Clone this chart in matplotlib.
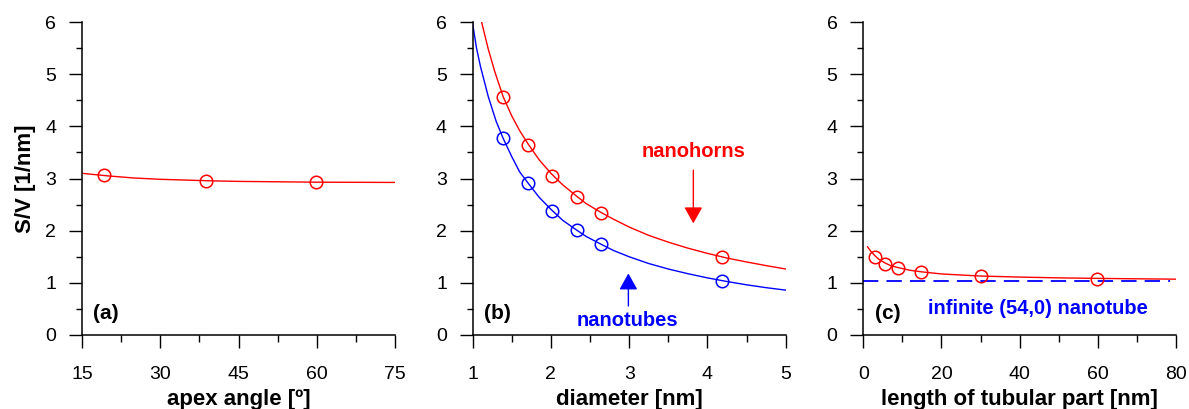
import numpy as np
import matplotlib
matplotlib.use("Agg")
import matplotlib.pyplot as plt
from matplotlib.ticker import MultipleLocator

plt.rcParams['font.family'] = ['Liberation Sans', 'DejaVu Sans']

# (a) S/V vs apex angle
apex_pts = [19.2, 38.8, 59.9]
apex_sv = [3.07, 2.96, 2.93]
apex_curve_x = [15, 20, 25, 30, 35, 40, 45, 50, 60, 75]
apex_curve_y = [3.10, 3.05, 3.01, 2.985, 2.97, 2.955, 2.945, 2.94, 2.93, 2.925]

# (b) S/V vs diameter
diam_pts = [1.39, 1.71, 2.02, 2.33, 2.64, 4.19]
horn_sv = [4.57, 3.64, 3.05, 2.65, 2.34, 1.50]
tube_sv = [3.77, 2.92, 2.38, 2.01, 1.74, 1.04]
horn_curve_x = [1.115, 1.2, 1.285, 1.39, 1.5, 1.6, 1.71, 1.85, 2.0, 2.15, 2.33, 2.45, 2.64,
                2.8, 3.0, 3.25, 3.5, 3.75, 4.0, 4.25, 4.5, 4.75, 5.0]
horn_curve_y = [6.0, 5.48, 5.04, 4.57, 4.20, 3.92, 3.66, 3.36, 3.10, 2.88, 2.66, 2.52, 2.35,
                2.22, 2.07, 1.91, 1.78, 1.665, 1.565, 1.475, 1.40, 1.33, 1.265]
tube_curve_x = [1.0, 1.05, 1.1, 1.2, 1.3, 1.39, 1.5, 1.6, 1.71, 1.85, 2.0, 2.15, 2.33, 2.45,
                2.64, 2.8, 3.0, 3.25, 3.5, 3.75, 4.0, 4.25, 4.5, 4.75, 5.0]
tube_curve_y = [5.97, 5.5, 5.15, 4.57, 4.10, 3.77, 3.42, 3.13, 2.91, 2.64, 2.41, 2.20, 2.01, 1.89,
                1.74, 1.62, 1.50, 1.37, 1.265, 1.175, 1.095, 1.025, 0.962, 0.907, 0.86]

# (c) S/V vs length of tubular part
len_pts = [3.07, 5.6, 9.0, 14.8, 30.2, 59.7]
len_sv = [1.50, 1.37, 1.29, 1.20, 1.13, 1.08]
len_curve_x = [1.1, 2, 3, 4, 5.6, 7, 9, 12, 15, 20, 30, 40, 50, 60, 70, 80]
len_curve_y = [1.69, 1.60, 1.52, 1.45, 1.38, 1.33, 1.29, 1.24, 1.21, 1.17, 1.13, 1.11, 1.095, 1.085, 1.077, 1.07]
inf_tube_sv = 1.035

RED = '#ff0000'
BLUE = '#0000ff'
FS = 14       # tick labels
FS_LAB = 16   # axis titles
FS_TXT = 14.5 # annotations

fig = plt.figure(figsize=(11.89, 4.09), dpi=100)
lefts = [0.069, 0.3975, 0.726]
axes = [fig.add_axes([l, 0.181, 0.2633, 0.765]) for l in lefts]


def style(ax, xlim, xmaj, xmin, xlabel):
    ax.set_xlim(*xlim)
    ax.set_ylim(0, 6)
    ax.xaxis.set_major_locator(MultipleLocator(xmaj))
    ax.xaxis.set_minor_locator(MultipleLocator(xmin))
    ax.yaxis.set_major_locator(MultipleLocator(1))
    ax.yaxis.set_minor_locator(MultipleLocator(0.5))
    for s in ['top', 'right']:
        ax.spines[s].set_visible(False)
    for s in ['left', 'bottom']:
        ax.spines[s].set_linewidth(1.1)
    ax.tick_params(axis='x', which='major', direction='out', length=9, width=1, pad=13, labelsize=FS)
    ax.tick_params(axis='x', which='minor', direction='out', length=5, width=1)
    ax.tick_params(axis='y', which='major', direction='out', length=9.5, width=1, pad=9, labelsize=FS)
    ax.tick_params(axis='y', which='minor', direction='out', length=4, width=1)
    ax.set_xlabel(xlabel, fontsize=FS_LAB, fontweight='bold', labelpad=5)
    for lab in ax.get_xticklabels() + ax.get_yticklabels():
        lab.set_clip_on(False)


mk = dict(marker='o', linestyle='none', markersize=9, markerfacecolor='none', markeredgewidth=1.1)

# panel a
ax = axes[0]
style(ax, (15, 75), 15, 7.5, 'apex angle [º]')
ax.plot(apex_curve_x, apex_curve_y, color=RED, lw=1.0)
ax.plot(apex_pts, apex_sv, color=RED, **mk)
ax.set_ylabel('S/V [1/nm]', fontsize=FS_LAB, fontweight='bold', labelpad=7)
ax.text(0.035, 0.07, '(a)', transform=ax.transAxes, fontsize=15, fontweight='bold', va='center')

# panel b
ax = axes[1]
style(ax, (1, 5), 1, 0.5, 'diameter [nm]')
ax.plot(horn_curve_x, horn_curve_y, color=RED, lw=1.0)
ax.plot(tube_curve_x, tube_curve_y, color=BLUE, lw=1.0)
ax.plot(diam_pts, horn_sv, color=RED, **mk)
ax.plot(diam_pts, tube_sv, color=BLUE, **mk)
ax.annotate('', xy=(3.82, 2.14), xytext=(3.82, 3.16),
            arrowprops=dict(arrowstyle='-|>,head_length=0.5,head_width=0.28', color=RED,
                            lw=1.0, mutation_scale=20, shrinkA=0, shrinkB=0))
ax.annotate('', xy=(2.99, 1.18), xytext=(2.99, 0.556),
            arrowprops=dict(arrowstyle='-|>,head_length=0.5,head_width=0.28', color=BLUE,
                            lw=1.0, mutation_scale=20, shrinkA=0, shrinkB=0))
ax.text(3.82, 3.51, 'nanohorns', color=RED, fontsize=FS_TXT, fontweight='bold', ha='center', va='center')
ax.text(2.98, 0.27, 'nanotubes', color=BLUE, fontsize=FS_TXT, fontweight='bold', ha='center', va='center')
ax.text(0.036, 0.07, '(b)', transform=ax.transAxes, fontsize=15, fontweight='bold', va='center')

# panel c
ax = axes[2]
style(ax, (0, 80), 20, 10, 'length of tubular part [nm]')
ax.plot([0, 78.5], [inf_tube_sv, inf_tube_sv], color=BLUE, lw=1.3, dashes=(8.5, 4.5))
ax.plot(len_curve_x, len_curve_y, color=RED, lw=1.0)
ax.plot(len_pts, len_sv, color=RED, **mk)
ax.text(44.7, 0.51, 'infinite (54,0) nanotube', color=BLUE, fontsize=FS_TXT, fontweight='bold', ha='center', va='center')
ax.text(0.038, 0.07, '(c)', transform=ax.transAxes, fontsize=15, fontweight='bold', va='center')

fig.savefig('out.png', dpi=100)
